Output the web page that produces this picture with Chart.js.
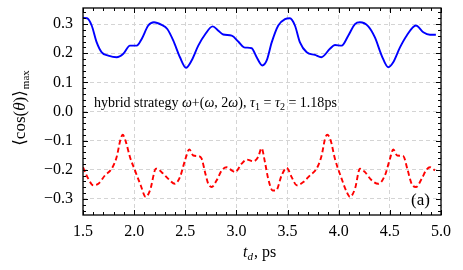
<!DOCTYPE html>
<html>
<head>
<meta charset="utf-8">
<script src="https://cdn.jsdelivr.net/npm/chart.js@4/dist/chart.umd.min.js"></script>
<style>
  html, body { margin: 0; padding: 0; background: #ffffff; }
  #c { display: block; }
</style>
</head>
<body>
<canvas id="c" width="463" height="270"></canvas>
<script>
// ---- data ----
const tdBlue = [1.50,1.54,1.585,1.634,1.683,1.747,1.829,1.894,1.959,2.025,2.074,2.138,2.194,2.269,2.324,2.383,2.448,2.507,2.562,2.627,2.693,2.768,2.823,2.871,2.954,3.018,3.074,3.149,3.198,3.253,3.296,3.345,3.409,3.475,3.523,3.572,3.621,3.687,3.768,3.83,3.914,3.963,4.029,4.093,4.159,4.208,4.289,4.354,4.420,4.484,4.533,4.599,4.664,4.755,4.827,4.892,4.95];
const cosBlue = [0.321,0.320,0.295,0.237,0.203,0.192,0.186,0.198,0.226,0.226,0.249,0.295,0.306,0.297,0.283,0.243,0.186,0.150,0.175,0.226,0.264,0.292,0.277,0.264,0.260,0.240,0.220,0.217,0.186,0.158,0.175,0.237,0.295,0.317,0.320,0.295,0.237,0.203,0.194,0.186,0.215,0.228,0.226,0.260,0.300,0.306,0.292,0.254,0.192,0.152,0.169,0.220,0.260,0.295,0.272,0.263,0.263];

const tdRed = [1.50,1.552,1.601,1.650,1.715,1.781,1.829,1.868,1.888,1.920,1.959,2.008,2.064,2.113,2.155,2.214,2.269,2.334,2.399,2.448,2.497,2.539,2.578,2.627,2.660,2.693,2.725,2.758,2.807,2.856,2.905,2.954,2.986,3.051,3.100,3.165,3.213,3.246,3.279,3.311,3.354,3.387,3.442,3.491,3.540,3.589,3.654,3.719,3.784,3.833,3.866,3.888,3.921,3.963,4.029,4.078,4.110,4.159,4.208,4.257,4.322,4.387,4.452,4.501,4.533,4.572,4.631,4.670,4.713,4.755,4.811,4.853,4.892,4.941];
const cosRed = [-0.191,-0.231,-0.253,-0.248,-0.219,-0.196,-0.156,-0.094,-0.080,-0.105,-0.156,-0.202,-0.253,-0.293,-0.271,-0.196,-0.208,-0.231,-0.248,-0.225,-0.168,-0.130,-0.151,-0.153,-0.162,-0.208,-0.248,-0.259,-0.236,-0.202,-0.191,-0.202,-0.208,-0.179,-0.165,-0.171,-0.156,-0.126,-0.174,-0.231,-0.271,-0.271,-0.219,-0.193,-0.225,-0.253,-0.242,-0.219,-0.196,-0.151,-0.094,-0.080,-0.099,-0.162,-0.231,-0.276,-0.293,-0.265,-0.196,-0.208,-0.236,-0.248,-0.219,-0.162,-0.130,-0.151,-0.153,-0.196,-0.248,-0.259,-0.231,-0.202,-0.191,-0.202];

const xTicks = [1.5, 2.0, 2.5, 3.0, 3.5, 4.0, 4.5, 5.0];
const yTicks = [-0.3, -0.2, -0.1, 0.0, 0.1, 0.2, 0.3];
const xRange = [1.5, 5.0];
const yRange = [-0.355, 0.355];
const annotationText = ['hybrid strategy ', 'ω', '+(', 'ω', ', 2', 'ω', '), ', 'τ', '1', ' = ', 'τ', '2', ' = 1.18ps'];
const panelLabel = '(a)';

const SERIF = '"Liberation Serif", "DejaVu Serif", serif';

function pts(xs, ys) { return xs.map((x, i) => ({ x: x, y: ys[i] })); }
function fmt(v) {
  const s = Math.abs(v).toFixed(1);
  return (v < -1e-9 ? '\u2212' : '') + s;
}

const decorPlugin = {
  id: 'decor',
  afterDraw(chart) {
    const ctx = chart.ctx;
    const a = chart.chartArea;
    const xs = chart.scales.x, ys = chart.scales.y;
    ctx.save();
    // frame
    ctx.strokeStyle = '#000';
    ctx.lineWidth = 1.3;
    ctx.strokeRect(a.left, a.top, a.right - a.left, a.bottom - a.top);
    // ticks inward
    ctx.lineWidth = 1;
    ctx.beginPath();
    for (let k = 0; k <= 35; k++) {
      const v = 1.5 + k * 0.1;
      const px = Math.round(xs.getPixelForValue(v)) + 0.5;
      const L = (k % 5 === 0) ? 5 : 3;
      ctx.moveTo(px, a.bottom); ctx.lineTo(px, a.bottom - L);
      ctx.moveTo(px, a.top); ctx.lineTo(px, a.top + L);
    }
    for (let k = -17; k <= 17; k++) {
      const v = k * 0.02;
      const py = Math.round(ys.getPixelForValue(v)) + 0.5;
      const L = (k % 5 === 0) ? 5 : 3;
      ctx.moveTo(a.left, py); ctx.lineTo(a.left + L, py);
      ctx.moveTo(a.right, py); ctx.lineTo(a.right - L, py);
    }
    ctx.stroke();

    ctx.fillStyle = '#000';
    ctx.textBaseline = 'alphabetic';
    // x title: t_d, ps
    let x = 243, yb = 257;
    ctx.font = 'italic 16px ' + SERIF;
    ctx.fillText('t', x, yb); x += ctx.measureText('t').width;
    ctx.font = 'italic 11px ' + SERIF;
    ctx.fillText('d', x, yb + 3); x += ctx.measureText('d').width + 1;
    ctx.font = '16px ' + SERIF;
    ctx.fillText(', ps', x, yb);

    // y title: <cos(theta)>_max rotated
    ctx.save();
    ctx.translate(25, 108);
    ctx.rotate(-Math.PI / 2);
    const main1 = '\u27E8cos(';
    const th = '\u03B8';
    const main2 = ')\u27E9';
    ctx.font = '17px ' + SERIF; const w1 = ctx.measureText(main1).width;
    ctx.font = 'italic 17px ' + SERIF; const w2 = ctx.measureText(th).width;
    ctx.font = '17px ' + SERIF; const w3 = ctx.measureText(main2).width;
    ctx.font = '11px ' + SERIF; const w4 = ctx.measureText('max').width;
    let tx = -(w1 + w2 + w3 + w4 + 1) / 2;
    ctx.font = '17px ' + SERIF; ctx.fillText(main1, tx, 0); tx += w1;
    ctx.font = 'italic 17px ' + SERIF; ctx.fillText(th, tx, 0); tx += w2;
    ctx.font = '17px ' + SERIF; ctx.fillText(main2, tx, 0); tx += w3 + 1;
    ctx.font = '11px ' + SERIF; ctx.fillText('max', tx, 4);
    ctx.restore();

    // annotation
    const italicIdx = new Set([1, 3, 5, 7, 10]);
    const subIdx = new Set([8, 11]);
    const base = 12;
    function seg(i, size) {
      if (subIdx.has(i)) return (size * 0.72) + 'px ' + SERIF;
      return (italicIdx.has(i) ? 'italic ' : '') + size + 'px ' + SERIF;
    }
    let tot = 0;
    annotationText.forEach((s, i) => { ctx.font = seg(i, base); tot += ctx.measureText(s).width; });
    const size = base * 243 / tot;
    x = 94; yb = 107;
    annotationText.forEach((s, i) => {
      ctx.font = seg(i, size);
      ctx.fillText(s, x, subIdx.has(i) ? yb + 3 : yb);
      x += ctx.measureText(s).width;
    });

    // panel label
    ctx.font = '17px ' + SERIF;
    ctx.fillText(panelLabel, 411, 205);
    ctx.restore();
  }
};

new Chart(document.getElementById('c'), {
  type: 'line',
  data: {
    datasets: [
      {
        data: pts(tdBlue, cosBlue),
        borderColor: '#0000ff',
        borderWidth: 1.9,
        pointRadius: 0,
        cubicInterpolationMode: 'monotone',
        fill: false
      },
      {
        data: pts(tdRed, cosRed),
        borderColor: '#ff0000',
        borderWidth: 1.9,
        borderDash: [5, 3],
        pointRadius: 0,
        cubicInterpolationMode: 'monotone',
        fill: false
      }
    ]
  },
  options: {
    responsive: false,
    animation: false,
    devicePixelRatio: 1,
    layout: { padding: { left: 0, right: 22, top: 8, bottom: 0 } },
    plugins: { legend: { display: false }, tooltip: { enabled: false } },
    scales: {
      x: {
        type: 'linear',
        min: xRange[0], max: xRange[1],
        afterBuildTicks(s) { s.ticks = xTicks.map(v => ({ value: v })); },
        afterFit(s) { s.height = 55; s.paddingLeft = 0; s.paddingRight = 0; },
        ticks: {
          color: '#000',
          font: { family: SERIF, size: 16 },
          padding: 7,
          maxRotation: 0,
          callback: v => fmt(v)
        },
        grid: { color: '#d4d4d4', lineWidth: 1, drawTicks: false },
        border: { display: false, dash: [4, 3] }
      },
      y: {
        type: 'linear',
        min: yRange[0], max: yRange[1],
        afterBuildTicks(s) { s.ticks = yTicks.map(v => ({ value: v })); },
        afterFit(s) { s.width = 83; s.paddingTop = 0; s.paddingBottom = 0; },
        ticks: {
          color: '#000',
          font: { family: SERIF, size: 16 },
          padding: 10,
          callback: v => fmt(v)
        },
        grid: { color: '#d4d4d4', lineWidth: 1, drawTicks: false },
        border: { display: false, dash: [4, 3] }
      }
    }
  },
  plugins: [decorPlugin]
});
</script>
</body>
</html>
